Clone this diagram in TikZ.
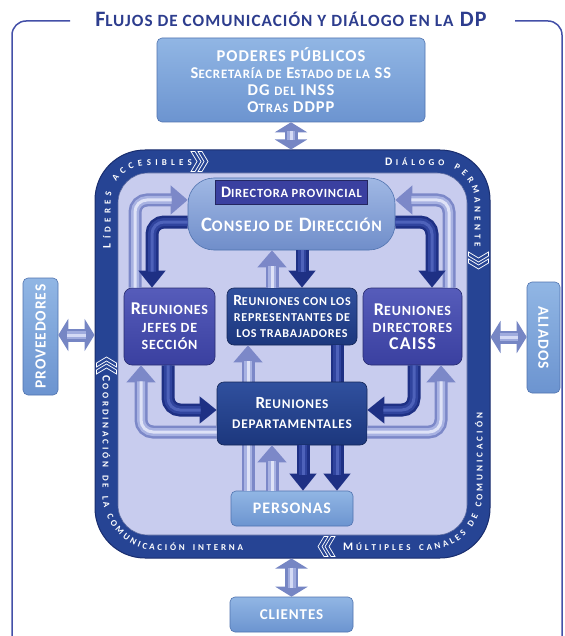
\documentclass[tikz,border=0pt]{standalone}
\usepackage{fontspec}
\setmainfont{Carlito}[LetterSpace=6]
\usetikzlibrary{arrows.meta,decorations.text,calc}
\definecolor{titlec}{RGB}{45,61,142}
\definecolor{framec}{RGB}{68,80,168}
\definecolor{bandC}{RGB}{38,68,148}
\definecolor{bandEdge}{RGB}{25,45,110}
\definecolor{innerC}{RGB}{200,204,238}
\definecolor{lb1}{RGB}{145,182,228}
\definecolor{lb2}{RGB}{108,148,208}
\definecolor{lbEdge}{RGB}{80,115,175}
\definecolor{ind1}{RGB}{86,92,186}
\definecolor{ind2}{RGB}{58,64,160}
\definecolor{db1}{RGB}{48,80,158}
\definecolor{db2}{RGB}{28,55,125}
\definecolor{cs1}{RGB}{160,184,228}
\definecolor{cs2}{RGB}{112,142,202}
\definecolor{laOut}{RGB}{124,136,200}
\definecolor{laMid}{RGB}{168,178,226}
\definecolor{laIn}{RGB}{222,226,247}
\definecolor{daOut}{RGB}{30,48,132}
\definecolor{daMid}{RGB}{48,68,158}
\definecolor{daIn}{RGB}{78,98,186}
\definecolor{dblOut}{RGB}{118,134,196}
\definecolor{dblMid}{RGB}{160,172,222}
\definecolor{dblIn}{RGB}{212,218,245}
\newcommand\sm[1]{\scalebox{0.78}{#1}}
\newcommand\fsz[2]{\bfseries\fontsize{#1}{#2}\selectfont}
\newcommand\bandbig{\bfseries\fontsize{11.5}{11.5}\selectfont\color{white}}
\newcommand\bandsmall{\bfseries\fontsize{9}{9}\selectfont\color{white}}
\begin{document}
\begin{tikzpicture}[x=1pt,y=-1pt,
  framel/.style={draw=framec, line width=1.5pt, rounded corners=14pt},
  box/.style={rounded corners=5pt, align=center, inner sep=0pt, text=white},
  lightbox/.style={box, draw=lbEdge, line width=0.6pt, top color=lb1, bottom color=lb2},
  indbox/.style={box, draw=ind2!70!black, line width=0.6pt, top color=ind1, bottom color=ind2, rounded corners=8pt},
  darkbox/.style={box, draw=db2!70!black, line width=0.6pt, top color=db1, bottom color=db2, rounded corners=7pt},
  larr/.style={draw=laOut, line width=13pt, rounded corners=12pt, -{Triangle[width=28pt,length=17pt]},
    postaction={draw=laMid, line width=8pt, -, shorten >=16pt},
    postaction={draw=laIn, line width=3pt, -, shorten >=16pt}},
  darr/.style={draw=daOut, line width=13pt, rounded corners=12pt, -{Triangle[width=26pt,length=17pt]},
    postaction={draw=daMid, line width=8pt, -, shorten >=16pt},
    postaction={draw=daIn, line width=3pt, -, shorten >=16pt}},
  dbl/.style={draw=dblOut, line width=13pt, {Triangle[width=32pt,length=10pt]}-{Triangle[width=32pt,length=10pt]},
    postaction={draw=dblMid, line width=8pt, -, shorten <=9pt, shorten >=9pt},
    postaction={draw=dblIn, line width=3pt, -, shorten <=9pt, shorten >=9pt}},
  chev/.pic={
    \foreach \d in {-4,3}{
      \draw[white, line width=0.7pt, fill=bandC] ({\d-4},-10) -- ({\d},-10) -- ({\d+6},0) -- ({\d},10) -- ({\d-4},10) -- ({\d+2},0) -- cycle;
    }
  },
  bandtext/.style={decorate, rounded corners=#1},
]
\useasboundingbox (0,0) rectangle (564,636);
\clip (0,0) rectangle (564,636);
\fill[white] (0,0) rectangle (564,636);

% outer frame and title
\draw[framel] (70,21) -- (12,21) -- (12,660);
\draw[framel] (515,21) -- (562,21) -- (562,660);
\node[anchor=base, text=titlec, font=\fsz{22}{22}] (title) at (291,27) {F\sm{LUJOS DE COMUNICACIÓN Y DIÁLOGO EN LA} DP};

% poderes
\node[lightbox, minimum width=268pt, minimum height=84pt, font=\fsz{16.5}{17}] (poderes) at (291,80)
  {PODERES PÚBLICOS\\ S\sm{ECRETARÍA DE} E\sm{STADO DE LA} SS\\ DG \sm{DEL} INSS\\ O\sm{TRAS} DDPP};

% band
\node[draw=bandEdge, line width=1pt, fill=bandC, rounded corners=50pt, minimum width=395pt, minimum height=408pt, inner sep=0pt] (band) at (292.5,354) {};
\node[fill=innerC, draw=bandEdge!60!innerC, line width=0.6pt, rounded corners=30pt, minimum width=349pt, minimum height=362pt, inner sep=0pt] (inner) at (292.5,354) {};

% band texts
\path[bandtext=36pt, decoration={text along path, text align=fit to path,
  text={|\bandbig|L|\bandsmall|ÍDERES ACCESIBLES}}] (110.5,248) -- (110.5,165.5) -- (192,165.5);
\path[bandtext=36pt, decoration={text along path, text align=fit to path,
  text={|\bandbig|D|\bandsmall|IÁLOGO PERMANENTE}}] (385,165.5) -- (474.5,165.5) -- (474.5,247);
\path[bandtext=56pt, decoration={text along path, text align=fit to path,
  text={|\bandbig|M|\bandsmall|ÚLTIPLES CANALES DE COMUNICACIÓN}}] (343,550.5) -- (482.5,550.5) -- (482.5,413);
\path[bandtext=56pt, decoration={text along path, text align=fit to path,
  text={|\bandbig|C|\bandsmall|OORDINACIÓN DE LA COMUNICACIÓN INTERNA}}] (102.5,375) -- (102.5,550.5) -- (243,550.5);

% chevrons
\pic at (199,161.5) {chev};
\pic[rotate=-90] at (478.5,260) {chev};
\pic[rotate=180] at (327,546.5) {chev};
\pic[rotate=90] at (106.5,366) {chev};

% inner nodes
\node[box, draw=lbEdge, line width=0.6pt, top color=cs1, bottom color=cs2, rounded corners=26pt, minimum width=207pt, minimum height=72pt] (consejo) at (291.5,214) {};
\node[fill=ind2, draw=ind2!60!black, line width=0.5pt, minimum width=152pt, minimum height=24pt, inner sep=0pt, text=white, font=\fsz{16}{16}] (directora) at (291.5,192) {D\sm{IRECTORA PROVINCIAL}};
\node[text=white, font=\fsz{20.5}{20.5}, inner sep=0pt] (consejotxt) at (291.5,225) {C\sm{ONSEJO DE} D\sm{IRECCIÓN}};

\node[indbox, minimum width=91pt, minimum height=77pt, font=\fsz{18}{17.5}] (jefes) at (169.5,326.5) {R\sm{EUNIONES}\\\sm{JEFES DE}\\\sm{SECCIÓN}};
\node[darkbox, minimum width=130pt, minimum height=57pt, font=\fsz{15.5}{16}] (repres) at (292,316.5) {R\sm{EUNIONES CON LOS}\\\sm{REPRESENTANTES DE}\\\sm{LOS TRABAJADORES}};
\node[indbox, minimum width=99pt, minimum height=77pt, font=\fsz{18}{17}] (directores) at (412.5,326.5) {R\sm{EUNIONES}\\\sm{DIRECTORES}\\CAISS};
\node[lightbox, minimum width=122pt, minimum height=35pt, font=\fsz{16}{16}] (personas) at (292,508.5) {PERSONAS};

% long arrows passing behind departamentales
\draw[larr] (personas.north -| 248,0) -- (repres.south -| 248,0);
\draw[darr] (repres.south -| 337,0) -- (personas.north -| 337,0);

\node[darkbox, minimum width=150pt, minimum height=63pt, font=\fsz{17}{20}] (depart) at (292,413.5) {R\sm{EUNIONES}\\\sm{DEPARTAMENTALES}};

% arrows consejo <-> columns
\draw[larr] (jefes.north -| 135,0) |- (consejo.west |- 0,200);
\draw[darr] (consejo.west |- 0,222) -| (jefes.north -| 152,0);
\draw[larr] (directores.north -| 449,0) |- (consejo.east |- 0,200);
\draw[darr] (consejo.east |- 0,222) -| (directores.north -| 432,0);
\draw[larr] (repres.north -| 272,0) -- (consejo.south -| 272,0);
\draw[darr] (consejo.south -| 302,0) -- (repres.north -| 302,0);

% arrows columns <-> departamentales
\draw[larr] (depart.west |- 0,432) -| (jefes.south -| 141,0);
\draw[darr] (jefes.south -| 168,0) |- (depart.west |- 0,410);
\draw[larr] (depart.east |- 0,432) -| (directores.south -| 441,0);
\draw[darr] (directores.south -| 414,0) |- (depart.east |- 0,410);

% departamentales <-> personas
\draw[larr] (personas.north -| 272,0) -- (depart.south -| 272,0);
\draw[darr] (depart.south -| 303,0) -- (personas.north -| 303,0);

% outer nodes
\node[lightbox, minimum width=123pt, minimum height=35pt, font=\fsz{15}{15}] (clientes) at (291.5,614.5) {CLIENTES};
\node[lightbox, minimum width=35pt, minimum height=117pt, font=\fsz{15.5}{15.5}] (proveedores) at (40.5,336.5) {\rotatebox{90}{PROVEEDORES}};
\node[lightbox, minimum width=33pt, minimum height=111pt, font=\fsz{15.5}{15.5}] (aliados) at (543.5,337.5) {\rotatebox{-90}{ALIADOS}};

% double arrows
\draw[dbl] (poderes.south) -- (poderes.south |- band.north);
\draw[dbl] (band.south -| clientes.north) -- (clientes.north);
\draw[dbl] (proveedores.east |- 0,335) -- (band.west |- 0,335);
\draw[dbl] (band.east |- 0,337) -- (aliados.west |- 0,337);
\end{tikzpicture}
\end{document}
